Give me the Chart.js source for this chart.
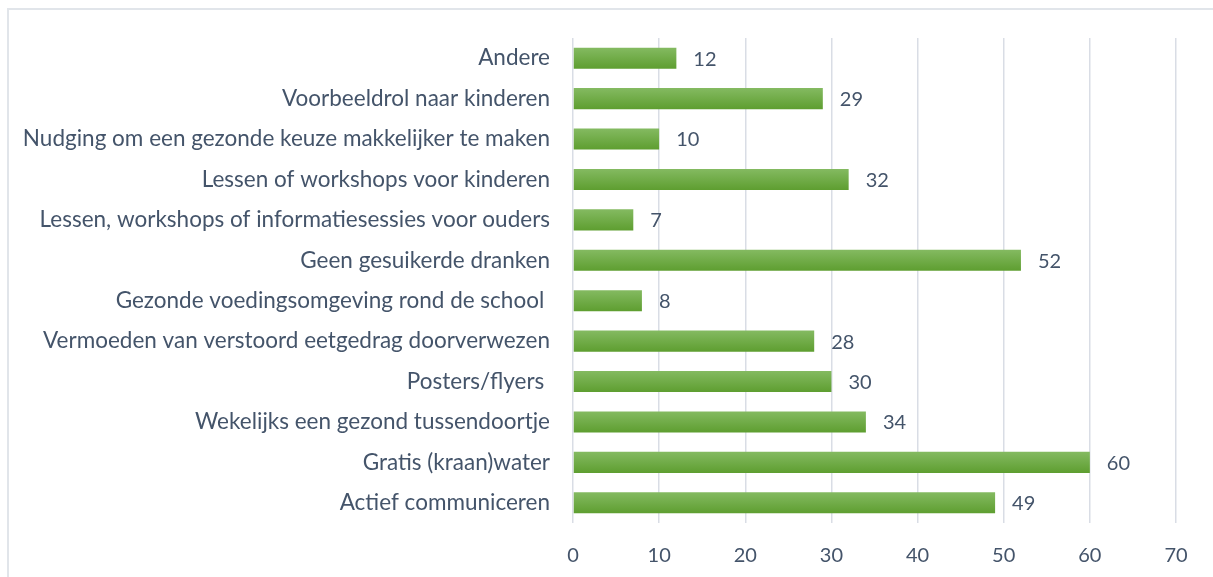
<!DOCTYPE html>
<html>
<head>
<meta charset="utf-8">
<script src="https://cdn.jsdelivr.net/npm/chart.js@4/dist/chart.umd.min.js"></script>
<style>
    html, body { margin: 0; padding: 0; background: #fff; overflow: hidden; }
    #wrap { position: relative; width: 1213px; height: 577px; }
    #frame { position: absolute; left: 7px; top: 8px; right: -5px; bottom: -5px;
             border-top: 2px solid #e1e5ea; border-left: 2px solid #e1e5ea; }
    canvas { position: absolute; left: 0; top: 0; }
</style>
</head>
<body>
<div id="wrap">
    <div id="frame"></div>
    <canvas id="chart" width="1213" height="577"></canvas>
</div>
<script>
const categories = [
    'Andere',
    'Voorbeeldrol naar kinderen',
    'Nudging om een gezonde keuze makkelijker te maken',
    'Lessen of workshops voor kinderen',
    'Lessen, workshops of informatiesessies voor ouders',
    'Geen gesuikerde dranken',
    'Gezonde voedingsomgeving rond de school ',
    'Vermoeden van verstoord eetgedrag doorverwezen',
    'Posters/flyers ',
    'Wekelijks een gezond tussendoortje',
    'Gratis (kraan)water',
    'Actief communiceren'
];
const values = [12, 29, 10, 32, 7, 52, 8, 28, 30, 34, 60, 49];
const xTicks = [0, 10, 20, 30, 40, 50, 60, 70];

const textColor = '#44546a';
const fontFamily = 'Lato, "Open Sans", sans-serif';

// vertical gradient on each bar, like the office style
const barGradient = {
    id: 'barGradient',
    beforeDatasetsDraw(chart) {
        const ctx = chart.ctx;
        chart.getDatasetMeta(0).data.forEach(bar => {
            const half = bar.height / 2;
            const g = ctx.createLinearGradient(0, bar.y - half, 0, bar.y + half);
            g.addColorStop(0, '#84ba61');
            g.addColorStop(1, '#5e9e30');
            bar.options.backgroundColor = g;
        });
    }
};

const valueLabels = {
    id: 'valueLabels',
    afterDatasetsDraw(chart) {
        const ctx = chart.ctx;
        ctx.save();
        ctx.font = '20px ' + fontFamily;
        ctx.fillStyle = textColor;
        ctx.textAlign = 'left';
        ctx.textBaseline = 'middle';
        chart.getDatasetMeta(0).data.forEach((bar, i) => {
            ctx.fillText(String(values[i]), bar.x + 17, bar.y + 1);
        });
        ctx.restore();
    }
};

new Chart(document.getElementById('chart'), {
    type: 'bar',
    data: {
        labels: categories,
        datasets: [{
            data: values,
            // scriptable so each bar gets its own options object
            backgroundColor: () => '#70ac47',
            borderWidth: 0,
            categoryPercentage: 1,
            barPercentage: 0.52
        }]
    },
    options: {
        indexAxis: 'y',
        responsive: false,
        animation: false,
        layout: { padding: { top: 38, right: 37, left: 0, bottom: 0 } },
        plugins: {
            legend: { display: false },
            tooltip: { enabled: false }
        },
        scales: {
            x: {
                min: 0,
                max: 70,
                afterBuildTicks: scale => { scale.ticks = xTicks.map(v => ({ value: v })); },
                afterFit: scale => { scale.height = 54; },
                grid: { color: '#d9dde5', lineWidth: 1.5, drawTicks: false },
                border: { display: false },
                ticks: {
                    color: textColor,
                    font: { family: fontFamily, size: 20 },
                    padding: 21
                }
            },
            y: {
                afterFit: scale => { scale.width = 573; },
                grid: { display: false, drawTicks: false },
                border: { display: false },
                ticks: {
                    color: textColor,
                    font: { family: fontFamily, size: 22.5 },
                    padding: 23,
                    autoSkip: false
                }
            }
        }
    },
    plugins: [barGradient, valueLabels]
});
</script>
</body>
</html>
